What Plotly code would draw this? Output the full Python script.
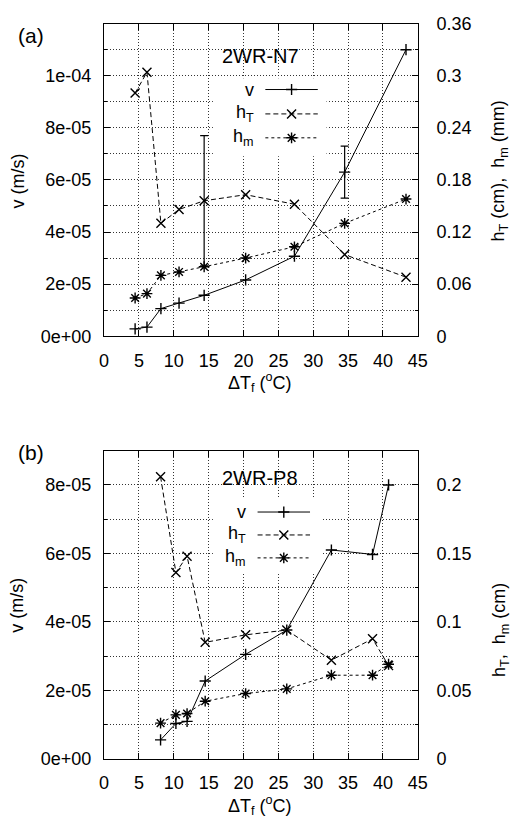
import plotly.graph_objects as go

# ---- data -------------------------------------------------------------
# panel (a): 2WR-N7
dTf_a = [4.45, 6.15, 8.15, 10.75, 14.35, 20.3, 27.3, 34.5, 43.3]
v_a = [2.8e-6, 3.5e-6, 1.06e-5, 1.27e-5, 1.57e-5, 2.16e-5, 3.07e-5, 6.3e-5, 1.10e-4]
hT_a = [0.280, 0.304, 0.130, 0.146, 0.156, 0.163, 0.152, 0.094, 0.068]
hm_a = [0.044, 0.049, 0.070, 0.074, 0.080, 0.090, 0.103, 0.130, 0.158]
v_err_a = [None, None, None, None, None, None, None, 1.0e-5, None]
hT_err_a = [None, None, None, None, 0.075, None, None, None, None]

# panel (b): 2WR-P8
dTf_b = [8.1, 10.3, 11.9, 14.5, 20.3, 26.2, 32.6, 38.5, 40.8]
v_b = [0.55e-5, 1.03e-5, 1.09e-5, 2.27e-5, 3.05e-5, 3.76e-5, 6.1e-5, 5.97e-5, 8.0e-5]
hT_b = [0.206, 0.136, 0.148, 0.085, 0.0905, 0.094, 0.072, 0.0876, 0.068]
hm_b = [0.026, 0.032, 0.033, 0.042, 0.0476, 0.051, 0.061, 0.061, 0.069]

x_ticks = [0, 5, 10, 15, 20, 25, 30, 35, 40, 45]
v_ticks_a = [0, 2e-5, 4e-5, 6e-5, 8e-5, 1e-4]
v_labels_a = ["0e+00", "2e-05", "4e-05", "6e-05", "8e-05", "1e-04"]
h_ticks_a = [0, 0.06, 0.12, 0.18, 0.24, 0.30, 0.36]
h_labels_a = ["0", "0.06", "0.12", "0.18", "0.24", "0.3", "0.36"]
v_ticks_b = [0, 2e-5, 4e-5, 6e-5, 8e-5]
v_labels_b = ["0e+00", "2e-05", "4e-05", "6e-05", "8e-05"]
h_ticks_b = [0, 0.05, 0.10, 0.15, 0.20]
h_labels_b = ["0", "0.05", "0.1", "0.15", "0.2"]

# ---- geometry (pixels of the 525x825 page) -----------------------------
W, H = 525, 825
X0, X1 = 102, 425
A_TOP, A_BOT = 14, 334.3
B_TOP, B_BOT = 451.7, 767.3
XR = [0, 45]
VR_A, HR_A = [0, 1.2e-4], [0, 0.36]
VR_B, HR_B = [0, 9e-5], [0, 0.225]

FONT = "Liberation Sans, Arial, Helvetica, sans-serif"
GRID = "#333333"
GRID_DASH = "1px,2px"

LINE_STYLES = {
    "v": dict(dash="solid", symbol="cross-thin", size=8),
    "hT": dict(dash="5px,3px", symbol="x-thin", size=9),
    "hm": dict(dash="3px,3px", symbol="asterisk", size=9),
}


def series(x, y, key, xa, ya):
    st = LINE_STYLES[key]
    return go.Scatter(
        x=x, y=y, xaxis=xa, yaxis=ya, mode="lines+markers",
        line=dict(color="black", width=1, dash=st["dash"]),
        marker=dict(symbol=st["symbol"], size=st["size"], color="black",
                    line=dict(color="black", width=1.4)),
        showlegend=False, hoverinfo="skip",
    )


def errbars(x, y, err, xa, ya):
    idx = [i for i, e in enumerate(err) if e is not None]
    return go.Scatter(
        x=[x[i] for i in idx], y=[y[i] for i in idx], xaxis=xa, yaxis=ya,
        mode="markers", marker=dict(size=1, opacity=0),
        error_y=dict(type="data", array=[err[i] for i in idx], visible=True,
                     color="black", thickness=1.2, width=4),
        showlegend=False, hoverinfo="skip",
    )


fig = go.Figure()

# panel (a)
fig.add_trace(series(dTf_a, v_a, "v", "x", "y"))
fig.add_trace(series(dTf_a, hT_a, "hT", "x", "y2"))
fig.add_trace(series(dTf_a, hm_a, "hm", "x", "y2"))
fig.add_trace(errbars(dTf_a, v_a, v_err_a, "x", "y"))
fig.add_trace(errbars(dTf_a, hT_a, hT_err_a, "x", "y2"))

# panel (b)
fig.add_trace(series(dTf_b, v_b, "v", "x2", "y3"))
fig.add_trace(series(dTf_b, hT_b, "hT", "x2", "y4"))
fig.add_trace(series(dTf_b, hm_b, "hm", "x2", "y4"))


# ---- key blocks (gnuplot style: label, then line sample) --------------
def to_data(X, Y, top, bot, vr):
    xd = XR[0] + (X - X0) / (X1 - X0) * (XR[1] - XR[0])
    yd = vr[0] + (bot - Y) / (bot - top) * (vr[1] - vr[0])
    return xd, yd


key_labels = {"v": "v", "hT": "h<sub>T</sub>", "hm": "h<sub>m</sub>"}
annotations = []
shapes = []


def add_key(xa, ya, top, bot, vr, rows, box, line_x, text_right):
    bx0, by0 = to_data(box[0], box[3], top, bot, vr)
    bx1, by1 = to_data(box[1], box[2], top, bot, vr)
    shapes.append(dict(type="rect", xref=xa, yref=ya, x0=bx0, x1=bx1,
                       y0=by0, y1=by1, fillcolor="white",
                       line=dict(width=0), layer="between"))
    for key, Y in rows:
        st = LINE_STYLES[key]
        lx0, ly = to_data(line_x[0], Y, top, bot, vr)
        lx1, _ = to_data(line_x[1], Y, top, bot, vr)
        fig.add_trace(go.Scatter(
            x=[lx0, (lx0 + lx1) / 2, lx1], y=[ly, ly, ly], xaxis=xa, yaxis=ya,
            mode="lines+markers",
            line=dict(color="black", width=1, dash=st["dash"]),
            marker=dict(symbol=st["symbol"], size=st["size"], color="black",
                        line=dict(color="black", width=1.4),
                        opacity=[0, 1, 0]),
            showlegend=False, hoverinfo="skip"))
        annotations.append(dict(
            x=text_right / W, y=1 - Y / H, xref="paper", yref="paper",
            text=key_labels[key], showarrow=False, xanchor="right",
            yanchor="middle", font=dict(size=18)))


add_key("x", "y", A_TOP, A_BOT, VR_A,
        [("v", 81.5), ("hT", 106.5), ("hm", 131)],
        (214, 331, 70, 150), (268, 322), 258)
add_key("x2", "y3", B_TOP, B_BOT, VR_B,
        [("v", 514.5), ("hT", 538), ("hm", 561.5)],
        (214, 326, 500, 576), (260, 314), 250)


def px(X, Y):
    return X / W, 1 - Y / H


def note(X, Y, text, size=18, angle=0, xanchor="center"):
    x, y = px(X, Y)
    annotations.append(dict(x=x, y=y, xref="paper", yref="paper", text=text,
                            showarrow=False, xanchor=xanchor, yanchor="middle",
                            textangle=angle, font=dict(size=size)))


# panel labels and titles
note(27, 26, "(a)", size=21)
note(27, 453, "(b)", size=21)
note(263, 47, "2WR-N7", size=20)
note(263, 480, "2WR-P8", size=20)

# axis titles
note(263, 382, "ΔT<sub>f</sub> (<sup>o</sup>C)")
note(263, 815, "ΔT<sub>f</sub> (<sup>o</sup>C)")
note(13, 175, "v (m/s)", angle=-90)
note(13, 610, "v (m/s)", angle=-90)
note(510, 165, "h<sub>T</sub> (cm),  h<sub>m</sub> (mm)", angle=-90)
note(510, 635, "h<sub>T</sub>,  h<sub>m</sub> (cm)", angle=-90)


# ---- axes -------------------------------------------------------------
def xaxis(anchor):
    return dict(
        domain=[X0 / W, X1 / W], anchor=anchor, range=XR,
        tickvals=x_ticks, ticktext=[str(t) for t in x_ticks],
        ticks="inside", ticklen=6, tickwidth=1, tickcolor="black",
        showline=True, linecolor="black", linewidth=1.3, mirror="ticks",
        showgrid=True, gridcolor=GRID, griddash=GRID_DASH, gridwidth=1,
        zeroline=False, ticklabelstandoff=8,
        tickfont=dict(size=18),
    )


def yleft(anchor, top, bot, vr, tv, tt, minor):
    return dict(
        domain=[1 - bot / H, 1 - top / H], anchor=anchor, range=vr,
        tickvals=tv, ticktext=tt,
        ticks="inside", ticklen=6, tickwidth=1, tickcolor="black",
        minor=dict(dtick=minor, tick0=0, ticks="inside", ticklen=3,
                   tickcolor="black", showgrid=True, gridcolor=GRID,
                   griddash=GRID_DASH, gridwidth=1),
        showline=True, linecolor="black", linewidth=1.3, mirror=False,
        showgrid=True, gridcolor=GRID, griddash=GRID_DASH, gridwidth=1,
        zeroline=False, ticklabelstandoff=8, tickfont=dict(size=18),
    )


def yright(anchor, over, hr, tv, tt, minor):
    return dict(
        overlaying=over, anchor=anchor, side="right", range=hr,
        tickvals=tv, ticktext=tt,
        ticks="inside", ticklen=6, tickwidth=1, tickcolor="black",
        minor=dict(dtick=minor, tick0=0, ticks="inside", ticklen=3,
                   tickcolor="black", showgrid=False),
        showline=True, linecolor="black", linewidth=1.3,
        showgrid=False, zeroline=False, ticklabelstandoff=14,
        tickfont=dict(size=18),
    )


fig.update_layout(
    width=W, height=H,
    margin=dict(l=0, r=0, t=0, b=0),
    paper_bgcolor="white", plot_bgcolor="white",
    font=dict(family=FONT, size=18, color="black"),
    showlegend=False,
    xaxis=xaxis("y"),
    yaxis=yleft("x", A_TOP, A_BOT, VR_A, v_ticks_a, v_labels_a, 1e-5),
    yaxis2=yright("x", "y", HR_A, h_ticks_a, h_labels_a, 0.03),
    xaxis2=xaxis("y3"),
    yaxis3=yleft("x2", B_TOP, B_BOT, VR_B, v_ticks_b, v_labels_b, 1e-5),
    yaxis4=yright("x2", "y3", HR_B, h_ticks_b, h_labels_b, 0.025),
    annotations=annotations,
    shapes=shapes,
)

fig.write_html("out.html")
